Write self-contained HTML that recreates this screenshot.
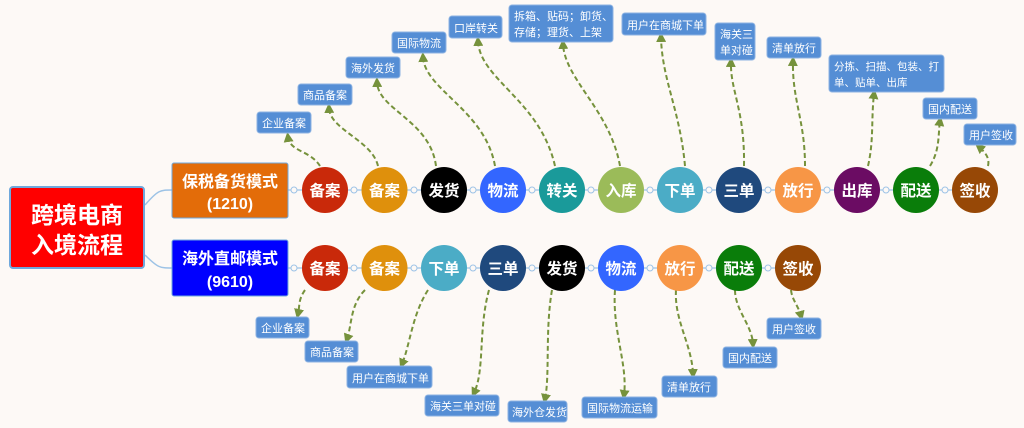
<!DOCTYPE html>
<html><head><meta charset="utf-8"><style>
html,body{margin:0;padding:0;background:#fdf9f6;}
svg{display:block}
text{font-family:"Liberation Sans","Noto Sans CJK SC",sans-serif;}
</style></head><body>
<svg width="1024" height="428" viewBox="0 0 1024 428" xmlns="http://www.w3.org/2000/svg">
<defs>
<marker id="ar" viewBox="0 0 10 10" refX="5" refY="5" markerWidth="5" markerHeight="5" orient="auto-start-reverse">
<path d="M0,0 L10,5 L0,10 z" fill="#76923c"/></marker>
</defs>
<rect width="1024" height="428" fill="#fdf9f6"/>
<path d="M145,205 C158,190 160,190 172,190" stroke="#9dc3e6" stroke-width="1.5" fill="none"/>
<path d="M145,255 C158,268 160,268 172,268" stroke="#9dc3e6" stroke-width="1.5" fill="none"/>
<line x1="288" y1="190" x2="975" y2="190" stroke="#9dc3e6" stroke-width="1.2"/>
<line x1="288" y1="268" x2="798" y2="268" stroke="#9dc3e6" stroke-width="1.2"/>
<g fill="#fdf9f6" stroke="#9dc3e6" stroke-width="1">
<circle cx="294" cy="190" r="3"/><circle cx="354" cy="190" r="3"/><circle cx="414" cy="190" r="3"/><circle cx="473" cy="190" r="3"/><circle cx="532" cy="190" r="3"/><circle cx="591" cy="190" r="3"/><circle cx="650" cy="190" r="3"/><circle cx="709" cy="190" r="3"/><circle cx="768" cy="190" r="3"/><circle cx="827" cy="190" r="3"/><circle cx="886" cy="190" r="3"/><circle cx="945" cy="190" r="3"/>
<circle cx="294" cy="268" r="3"/><circle cx="354" cy="268" r="3"/><circle cx="414" cy="268" r="3"/><circle cx="473" cy="268" r="3"/><circle cx="532" cy="268" r="3"/><circle cx="591" cy="268" r="3"/><circle cx="650" cy="268" r="3"/><circle cx="709" cy="268" r="3"/><circle cx="768" cy="268" r="3"/>
</g>
<rect x="10" y="187" width="134" height="81" rx="3" fill="#ff0000" stroke="#6fa8dc" stroke-width="2"/>
<text x="77" y="223" font-size="23" font-weight="bold" fill="#fff" text-anchor="middle">跨境电商</text>
<text x="77" y="253" font-size="23" font-weight="bold" fill="#fff" text-anchor="middle">入境流程</text>
<rect x="172" y="163" width="116" height="55" rx="2" fill="#e36c09" stroke="#6fa8dc" stroke-width="1"/>
<text x="230" y="187" font-size="16" font-weight="bold" fill="#fff" text-anchor="middle">保税备货模式</text>
<text x="230" y="209" font-size="16" font-weight="bold" fill="#fff" text-anchor="middle">(1210)</text>
<rect x="172" y="240" width="116" height="56" rx="2" fill="#0000ff" stroke="#6fa8dc" stroke-width="1"/>
<text x="230" y="264" font-size="16" font-weight="bold" fill="#fff" text-anchor="middle">海外直邮模式</text>
<text x="230" y="287" font-size="16" font-weight="bold" fill="#fff" text-anchor="middle">(9610)</text>
<g stroke="#76923c" stroke-width="2" stroke-dasharray="5,3" fill="none" marker-end="url(#ar)">
<path d="M320,166 C310,150 290,152 288,137"/>
<path d="M378,166 C372,140 330,130 329,108"/>
<path d="M436,166 C430,120 378,110 377,82"/>
<path d="M495,166 C485,110 425,90 423,57"/>
<path d="M555,166 C540,100 480,80 478,41"/>
<path d="M620,166 C610,110 565,80 563,44"/>
<path d="M685,166 C680,110 662,80 661,37"/>
<path d="M744,166 C745,110 730,90 731,62"/>
<path d="M805,166 C805,120 792,100 793,61"/>
<path d="M868,166 C874,140 871,120 874,94"/>
<path d="M930,166 C940,150 938,135 940,121"/>
<path d="M988,166 C990,158 985,152 979,147"/>
<path d="M305,290 C298,300 300,305 298,314"/>
<path d="M365,290 C350,305 352,325 347,339"/>
<path d="M428,290 C412,315 410,345 402,364"/>
<path d="M489,290 C478,330 485,370 474,393"/>
<path d="M552,290 C545,330 550,375 545,399"/>
<path d="M615,290 C612,330 628,365 624,395"/>
<path d="M676,290 C674,320 692,345 693,374"/>
<path d="M735,290 C735,310 752,325 753,344"/>
<path d="M791,290 C792,300 798,305 801,316"/>
</g>
<g font-size="15.5" font-weight="bold" fill="#fff" text-anchor="middle">
<circle cx="325" cy="190" r="23" fill="#c9290a"/><text x="325" y="196" fill="#fff">备案</text>
<circle cx="384.5" cy="190" r="23" fill="#df900c"/><text x="384.5" y="196" fill="#fff">备案</text>
<circle cx="444" cy="190" r="23" fill="#000"/><text x="444" y="196" fill="#fff">发货</text>
<circle cx="503" cy="190" r="23" fill="#3366ff"/><text x="503" y="196" fill="#fff">物流</text>
<circle cx="562" cy="190" r="23" fill="#1a9a9a"/><text x="562" y="196" fill="#fff">转关</text>
<circle cx="621" cy="190" r="23" fill="#9bbb59"/><text x="621" y="196" fill="#fff">入库</text>
<circle cx="680" cy="190" r="23" fill="#4bacc6"/><text x="680" y="196" fill="#fff">下单</text>
<circle cx="739" cy="190" r="23" fill="#1f497d"/><text x="739" y="196" fill="#fff">三单</text>
<circle cx="798" cy="190" r="23" fill="#f79646"/><text x="798" y="196" fill="#fff">放行</text>
<circle cx="857" cy="190" r="23" fill="#6b0c63"/><text x="857" y="196" fill="#fff">出库</text>
<circle cx="916" cy="190" r="23" fill="#0a7d0a"/><text x="916" y="196" fill="#fff">配送</text>
<circle cx="975" cy="190" r="23" fill="#974806"/><text x="975" y="196" fill="#fff">签收</text>
<circle cx="325" cy="268" r="23" fill="#c9290a"/><text x="325" y="274" fill="#fff">备案</text>
<circle cx="384.5" cy="268" r="23" fill="#df900c"/><text x="384.5" y="274" fill="#fff">备案</text>
<circle cx="444" cy="268" r="23" fill="#4bacc6"/><text x="444" y="274" fill="#fff">下单</text>
<circle cx="503" cy="268" r="23" fill="#1f497d"/><text x="503" y="274" fill="#fff">三单</text>
<circle cx="562" cy="268" r="23" fill="#000"/><text x="562" y="274" fill="#fff">发货</text>
<circle cx="621" cy="268" r="23" fill="#3366ff"/><text x="621" y="274" fill="#fff">物流</text>
<circle cx="680" cy="268" r="23" fill="#f79646"/><text x="680" y="274" fill="#fff">放行</text>
<circle cx="739" cy="268" r="23" fill="#0a7d0a"/><text x="739" y="274" fill="#fff">配送</text>
<circle cx="798" cy="268" r="23" fill="#974806"/><text x="798" y="274" fill="#fff">签收</text>
</g>
<g fill="#558ed5" stroke="#8db3e2" stroke-width="1">
<rect x="257" y="112" width="54" height="21" rx="3"/>
<rect x="298" y="84" width="54" height="21" rx="3"/>
<rect x="346" y="57" width="54" height="21" rx="3"/>
<rect x="392" y="32" width="54" height="21" rx="3"/>
<rect x="449" y="16" width="53" height="22" rx="3"/>
<rect x="509" y="5" width="104" height="37" rx="3"/>
<rect x="622" y="13" width="84" height="22" rx="3"/>
<rect x="715" y="23" width="40" height="37" rx="3"/>
<rect x="767" y="37" width="54" height="21" rx="3"/>
<rect x="829" y="55" width="115" height="37" rx="3"/>
<rect x="923" y="98" width="54" height="21" rx="3"/>
<rect x="964" y="124" width="52" height="21" rx="3"/>
<rect x="256" y="317" width="53" height="21" rx="3"/>
<rect x="305" y="341" width="53" height="21" rx="3"/>
<rect x="347" y="366" width="85" height="22" rx="3"/>
<rect x="425" y="395" width="74" height="21" rx="3"/>
<rect x="508" y="401" width="59" height="21" rx="3"/>
<rect x="582" y="397" width="75" height="21" rx="3"/>
<rect x="662" y="376" width="55" height="21" rx="3"/>
<rect x="723" y="347" width="54" height="21" rx="3"/>
<rect x="767" y="318" width="54" height="21" rx="3"/>
</g>
<g font-size="11" fill="#fff">
<text x="262" y="127">企业备案</text>
<text x="303" y="99">商品备案</text>
<text x="351" y="72">海外发货</text>
<text x="397" y="47">国际物流</text>
<text x="454" y="32">口岸转关</text>
<text x="514" y="20">拆箱、贴码；卸货、</text>
<text x="514" y="36">存储；理货、上架</text>
<text x="627" y="29">用户在商城下单</text>
<text x="720" y="38">海关三</text>
<text x="720" y="54">单对碰</text>
<text x="772" y="52">清单放行</text>
<text x="834" y="70" font-size="10.5">分拣、扫描、包装、打</text>
<text x="834" y="86" font-size="10.5">单、贴单、出库</text>
<text x="928" y="113">国内配送</text>
<text x="969" y="139">用户签收</text>
<text x="261" y="332">企业备案</text>
<text x="310" y="356">商品备案</text>
<text x="352" y="382">用户在商城下单</text>
<text x="430" y="410">海关三单对碰</text>
<text x="512" y="416">海外仓发货</text>
<text x="587" y="412">国际物流运输</text>
<text x="667" y="391">清单放行</text>
<text x="728" y="362">国内配送</text>
<text x="772" y="333">用户签收</text>
</g>
</svg>
</body></html>
